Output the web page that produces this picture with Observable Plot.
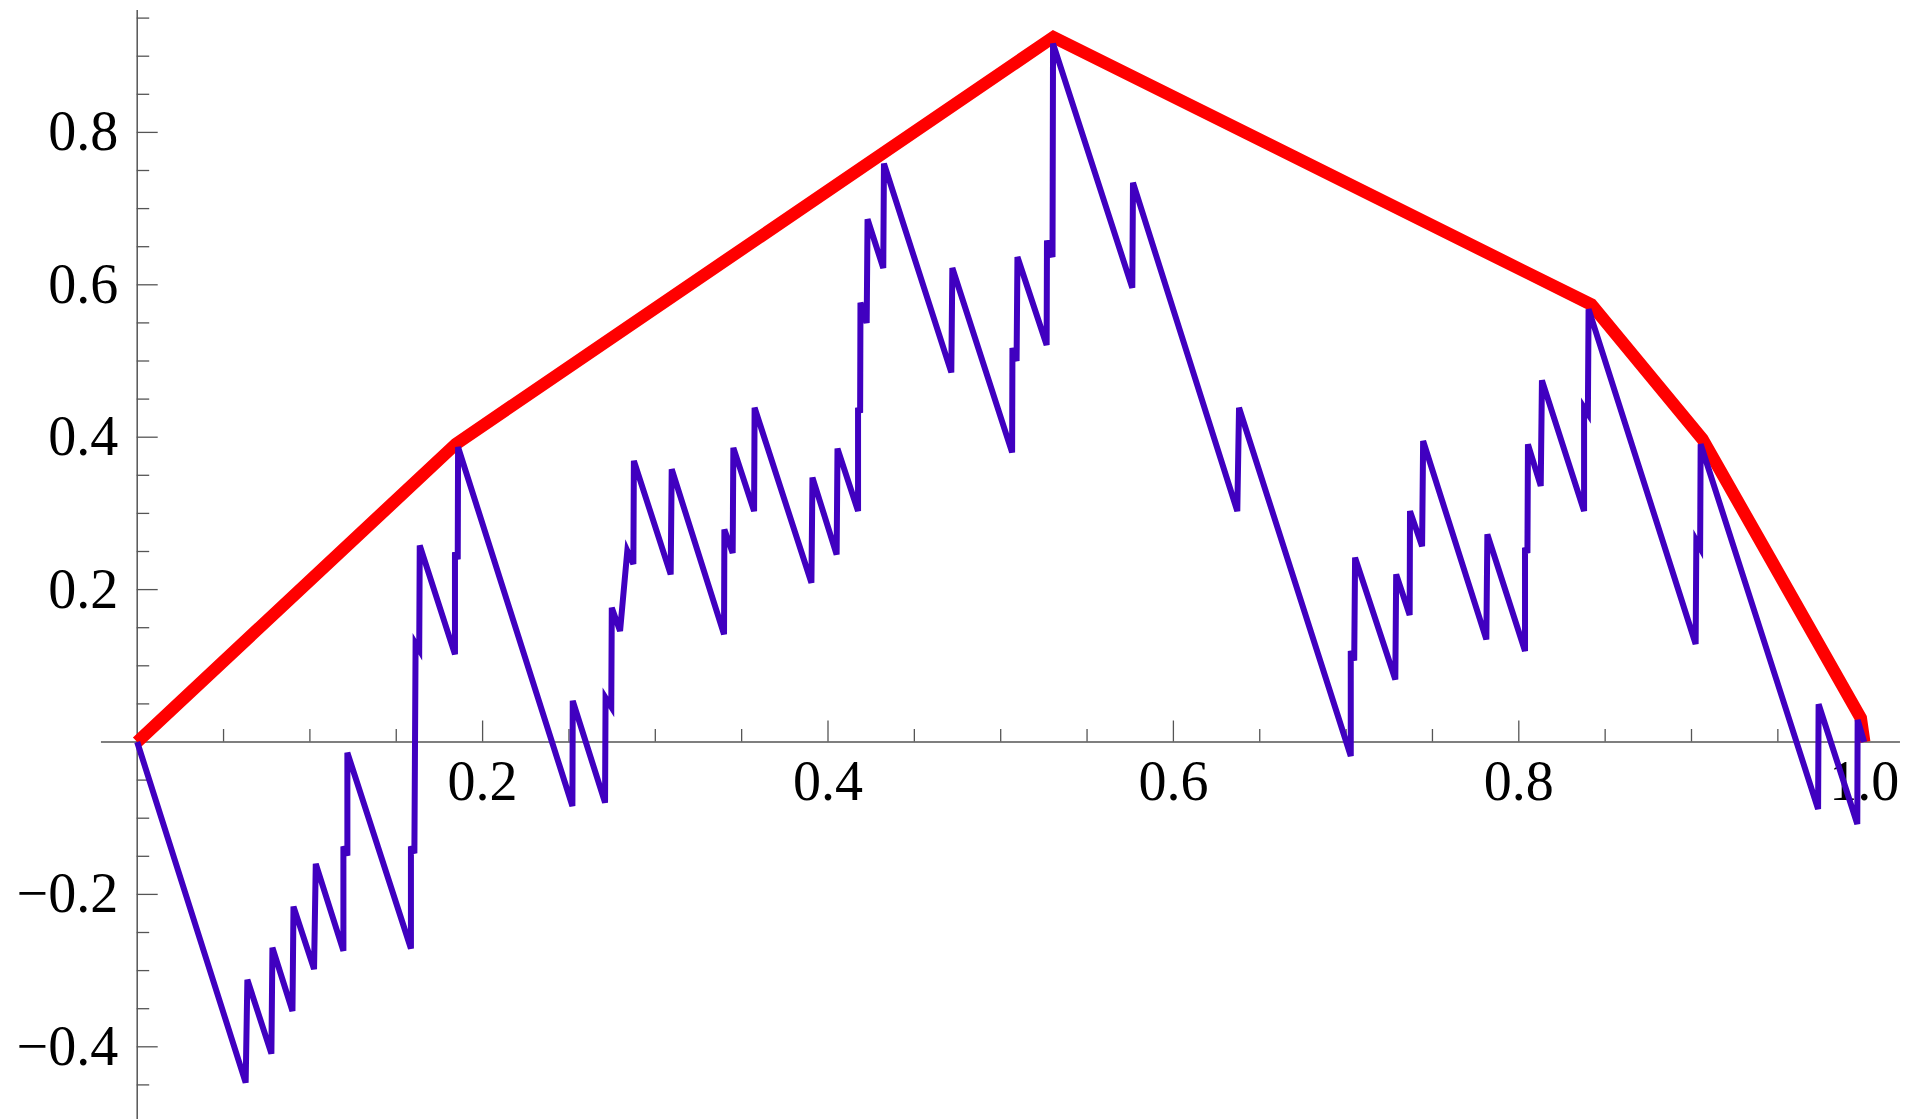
<!DOCTYPE html>
<html>
<head>
<meta charset="utf-8">
<script src="https://cdn.jsdelivr.net/npm/d3@7"></script>
<script src="https://cdn.jsdelivr.net/npm/@observablehq/plot@0.6"></script>
<style>
  html, body { margin: 0; padding: 0; background: #ffffff; }
  #chart { position: absolute; left: 0; top: 0; }
</style>
</head>
<body>
<div id="chart"></div>
<script>
// ---- data ----
const blueX = [
  0, 0.0628, 0.0638, 0.0777, 0.0783, 0.0899, 0.0905, 0.1024, 0.1034, 0.1194,
  0.1194, 0.1217, 0.1217, 0.1585, 0.1585, 0.1605, 0.1612, 0.1633, 0.1636, 0.1840,
  0.1840, 0.1856, 0.1858, 0.2520, 0.2522, 0.2709, 0.2712, 0.2745, 0.2748, 0.2796,
  0.2838, 0.2873, 0.2876, 0.3089, 0.3095, 0.3398, 0.3400, 0.3448, 0.3452, 0.3572,
  0.3575, 0.3904, 0.3910, 0.4050, 0.4055, 0.4174, 0.4174, 0.4186, 0.4188, 0.4224,
  0.4229, 0.4320, 0.4324, 0.4714, 0.4720, 0.5066, 0.5068, 0.5092, 0.5097, 0.5266,
  0.5268, 0.5300, 0.5303, 0.5762, 0.5766, 0.6370, 0.6380, 0.7027, 0.7027, 0.7047,
  0.7052, 0.7285, 0.7290, 0.7368, 0.7370, 0.7440, 0.7446, 0.7812, 0.7818, 0.8036,
  0.8036, 0.8050, 0.8053, 0.8127, 0.8134, 0.8378, 0.8378, 0.8400, 0.8404, 0.9024,
  0.9028, 0.9050, 0.9053, 0.9733, 0.9736, 0.9960, 0.9962, 1.0
];
const blueY = [
  0, -0.447, -0.312, -0.409, -0.270, -0.353, -0.216, -0.298, -0.160, -0.274,
  -0.137, -0.149, -0.014, -0.271, -0.137, -0.146, 0.129, 0.121, 0.258, 0.115,
  0.249, 0.240, 0.387, -0.084, 0.054, -0.0796, 0.058, 0.046, 0.176, 0.1457,
  0.251, 0.2335, 0.369, 0.220, 0.358, 0.1413, 0.279, 0.248, 0.386, 0.303,
  0.4387, 0.209, 0.347, 0.246, 0.385, 0.303, 0.4387, 0.432, 0.5765, 0.550,
  0.686, 0.622, 0.759, 0.485, 0.622, 0.380, 0.517, 0.500, 0.6365, 0.521,
  0.658, 0.6365, 0.9165, 0.596, 0.734, 0.303, 0.4387, -0.0184, 0.1194, 0.107,
  0.242, 0.082, 0.220, 0.1667, 0.303, 0.257, 0.395, 0.1347, 0.2725, 0.1194,
  0.255, 0.248, 0.3907, 0.336, 0.4746, 0.303, 0.4387, 0.431, 0.568, 0.1286,
  0.264, 0.255, 0.3908, -0.088, 0.0496, -0.1076, 0.029, 0
];
const redX = [0, 0.1845, 0.5305, 0.842, 0.9063, 0.998, 1.0];
const redY = [0, 0.391, 0.925, 0.574, 0.3976, 0.0315, 0];

const xMajorTicks = [0.2, 0.4, 0.6, 0.8, 1.0];
const xMinorTicks = [0.05, 0.1, 0.15, 0.25, 0.3, 0.35, 0.45, 0.5, 0.55, 0.65, 0.7, 0.75, 0.85, 0.9, 0.95];
const yMajorTicks = [-0.4, -0.2, 0.2, 0.4, 0.6, 0.8];
const yMinorTicks = [-0.45, -0.35, -0.3, -0.25, -0.15, -0.1, -0.05, 0.05, 0.1, 0.15,
  0.25, 0.3, 0.35, 0.45, 0.5, 0.55, 0.65, 0.7, 0.75, 0.85, 0.9, 0.95];
const xAxisExtent = [-0.0207, 1.021];
const yAxisExtent = [-0.4954, 0.96];

// ---- layout ----
const W = 1923, H = 1119;
const x0px = 136.7, x1px = 1863.7;
const y0px = 741.5, pxPerY = 762;
const pxPerX = x1px - x0px;
const yDomain = [(y0px - H) / pxPerY, y0px / pxPerY];

const majorLen = 21, minorLen = 12.5;
const axisColor = "#555555";
const fmt = d3.format(".1f");
const font = "Liberation Serif, Times New Roman, serif";

const blue = blueX.map((x, i) => ({x, y: blueY[i]}));
const red = redX.map((x, i) => ({x, y: redY[i]}));

const chart = Plot.plot({
  width: W,
  height: H,
  marginLeft: x0px,
  marginRight: W - x1px,
  marginTop: 0,
  marginBottom: 0,
  x: {domain: [0, 1], axis: null},
  y: {domain: yDomain, axis: null},
  style: {background: "#ffffff", overflow: "visible"},
  marks: [
    // axes lines
    Plot.ruleY([0], {x1: xAxisExtent[0], x2: xAxisExtent[1], stroke: axisColor, strokeWidth: 1.5}),
    Plot.ruleX([0], {y1: yAxisExtent[0], y2: yAxisExtent[1], stroke: axisColor, strokeWidth: 1.5}),
    // x ticks (pointing up)
    Plot.ruleX(xMajorTicks, {x: d => d, y1: 0, y2: majorLen / pxPerY, stroke: axisColor, strokeWidth: 1.3}),
    Plot.ruleX(xMinorTicks, {x: d => d, y1: 0, y2: minorLen / pxPerY, stroke: axisColor, strokeWidth: 1.3}),
    // y ticks (pointing right)
    Plot.ruleY(yMajorTicks, {y: d => d, x1: 0, x2: majorLen / pxPerX, stroke: axisColor, strokeWidth: 1.3}),
    Plot.ruleY(yMinorTicks, {y: d => d, x1: 0, x2: minorLen / pxPerX, stroke: axisColor, strokeWidth: 1.3}),
    // tick labels
    Plot.text(xMajorTicks, {x: d => d, y: 0, text: d => fmt(d), lineAnchor: "top", dy: 18,
      fontSize: 56, fontFamily: font, fill: "#000000"}),
    Plot.text(yMajorTicks, {x: 0, y: d => d, text: d => fmt(d), textAnchor: "end", dx: -19,
      fontSize: 56, fontFamily: font, fill: "#000000"}),
    // red envelope
    Plot.line(red, {x: "x", y: "y", stroke: "#ff0000", strokeWidth: 12.5,
      strokeLinejoin: "miter", strokeLinecap: "butt", strokeMiterlimit: 4}),
    // blue function
    Plot.line(blue, {x: "x", y: "y", stroke: "#4000c0", strokeWidth: 6,
      strokeLinejoin: "miter", strokeLinecap: "butt", strokeMiterlimit: 4})
  ]
});
document.getElementById("chart").appendChild(chart);
</script>
</body>
</html>
